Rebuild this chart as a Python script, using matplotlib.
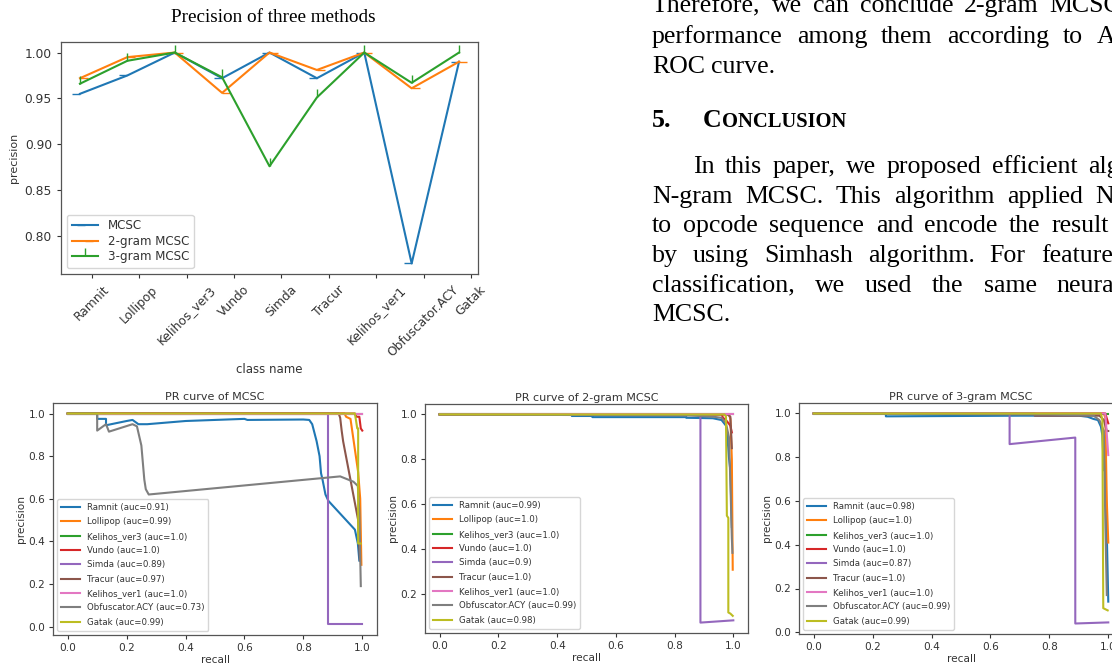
import matplotlib
matplotlib.use("Agg")
import matplotlib.pyplot as plt

W, H = 1112, 671

# ---------------- top chart data ----------------
classes = ["Ramnit", "Lollipop", "Kelihos_ver3", "Vundo", "Simda", "Tracur",
           "Kelihos_ver1", "Obfuscator.ACY", "Gatak"]
prec_mcsc = [0.955, 0.975, 1.0, 0.972, 1.0, 0.972, 1.0, 0.770, 0.990]
prec_2gram = [0.972, 0.995, 1.0, 0.956, 1.0, 0.981, 1.0, 0.961, 0.990]
prec_3gram = [0.966, 0.991, 1.0, 0.973, 0.876, 0.951, 1.0, 0.967, 1.0]
method_names = ["MCSC", "2-gram MCSC", "3-gram MCSC"]

# ---------------- PR curves data ----------------
auc_mcsc = [0.91, 0.99, 1.0, 1.0, 0.89, 0.97, 1.0, 0.73, 0.99]
auc_2gram = [0.99, 1.0, 1.0, 1.0, 0.9, 1.0, 1.0, 0.99, 0.98]
auc_3gram = [0.98, 1.0, 1.0, 1.0, 0.87, 1.0, 1.0, 0.99, 0.99]

mcsc_recall = {
    "Ramnit": [0, 0.10, 0.10, 0.13, 0.13, 0.20, 0.22, 0.24, 0.27, 0.40, 0.60, 0.61, 0.80, 0.82,
               0.83, 0.845, 0.855, 0.86, 0.865, 0.875, 0.885, 0.975, 0.985, 0.99],
    "Lollipop": [0, 0.94, 0.945, 0.96, 0.986, 0.993, 0.997],
    "Kelihos_ver3": [0, 1.0],
    "Vundo": [0, 0.975, 0.98, 0.99, 0.995, 1.0],
    "Simda": [0, 0.885, 0.885, 1.0],
    "Tracur": [0, 0.92, 0.925, 0.93, 0.935, 0.986, 0.992],
    "Kelihos_ver1": [0, 1.0],
    "Obfuscator.ACY": [0, 0.10, 0.10, 0.13, 0.14, 0.22, 0.235, 0.24, 0.25, 0.255, 0.26, 0.265,
                       0.275, 0.925, 0.97, 0.985, 0.99, 0.995],
    "Gatak": [0, 0.975, 0.983, 0.986, 0.986, 0.995],
}
mcsc_precision = {
    "Ramnit": [1.0, 1.0, 0.975, 0.975, 0.945, 0.965, 0.97, 0.95, 0.95, 0.965, 0.975, 0.97, 0.972, 0.97,
               0.95, 0.87, 0.80, 0.72, 0.69, 0.62, 0.59, 0.455, 0.39, 0.31],
    "Lollipop": [1.0, 1.0, 0.985, 0.975, 0.725, 0.6, 0.29],
    "Kelihos_ver3": [1.0, 1.0],
    "Vundo": [1.0, 1.0, 0.985, 0.985, 0.93, 0.92],
    "Simda": [1.0, 1.0, 0.01, 0.01],
    "Tracur": [1.0, 1.0, 0.98, 0.92, 0.87, 0.50, 0.31],
    "Kelihos_ver1": [1.0, 1.0],
    "Obfuscator.ACY": [1.0, 1.0, 0.92, 0.95, 0.915, 0.95, 0.94, 0.91, 0.85, 0.77, 0.69, 0.645,
                       0.62, 0.705, 0.68, 0.66, 0.54, 0.19],
    "Gatak": [1.0, 1.0, 0.93, 0.93, 0.39, 0.39],
}

gram2_recall = {
    "Ramnit": [0, 0.45, 0.45, 0.52, 0.52, 0.84, 0.84, 0.93, 0.96, 0.975, 0.98, 0.985, 0.99, 0.995],
    "Lollipop": [0, 0.985, 0.99, 0.995, 0.998],
    "Kelihos_ver3": [0, 1.0],
    "Vundo": [0, 0.96, 0.965, 0.975, 0.99, 0.995],
    "Simda": [0, 0.888, 0.888, 1.0],
    "Tracur": [0, 0.98, 0.99, 0.995],
    "Kelihos_ver1": [0, 1.0],
    "Obfuscator.ACY": [0, 0.85, 0.93, 0.96, 0.975, 0.985, 0.99, 0.995, 0.997],
    "Gatak": [0, 0.97, 0.975, 0.978, 0.983, 0.983, 0.99, 0.998],
}
gram2_precision = {
    "Ramnit": [1.0, 1.0, 0.993, 0.993, 0.988, 0.988, 0.985, 0.983, 0.975, 0.95, 0.90, 0.81, 0.75, 0.5],
    "Lollipop": [1.0, 1.0, 0.98, 0.8, 0.31],
    "Kelihos_ver3": [1.0, 1.0],
    "Vundo": [1.0, 1.0, 0.985, 0.975, 0.95, 0.92],
    "Simda": [1.0, 1.0, 0.075, 0.085],
    "Tracur": [1.0, 1.0, 0.99, 0.85],
    "Kelihos_ver1": [1.0, 1.0],
    "Obfuscator.ACY": [1.0, 0.995, 0.99, 0.985, 0.96, 0.9, 0.7, 0.45, 0.385],
    "Gatak": [1.0, 1.0, 0.99, 0.55, 0.54, 0.12, 0.115, 0.105],
}

gram3_recall = {
    "Ramnit": [0, 0.245, 0.245, 0.70, 0.90, 0.93, 0.95, 0.965, 0.975, 0.98, 0.985, 0.99, 0.995, 1.0],
    "Lollipop": [0, 0.985, 0.99, 0.995, 1.0],
    "Kelihos_ver3": [0, 1.0],
    "Vundo": [0, 0.99, 1.0],
    "Simda": [0, 0.665, 0.665, 0.888, 0.888, 1.0],
    "Tracur": [0, 0.75, 0.75, 0.97, 0.985, 0.995, 1.0],
    "Kelihos_ver1": [0, 0.99, 1.0],
    "Obfuscator.ACY": [0, 0.8, 0.95, 0.97, 0.985, 0.99, 0.995],
    "Gatak": [0, 0.975, 0.98, 0.983, 0.998],
}
gram3_precision = {
    "Ramnit": [1.0, 1.0, 0.987, 0.99, 0.99, 0.985, 0.975, 0.97, 0.94, 0.9, 0.74, 0.8, 0.45, 0.14],
    "Lollipop": [1.0, 1.0, 0.98, 0.6, 0.41],
    "Kelihos_ver3": [1.0, 1.0],
    "Vundo": [1.0, 1.0, 0.955],
    "Simda": [1.0, 1.0, 0.86, 0.89, 0.04, 0.045],
    "Tracur": [1.0, 1.0, 0.99, 0.99, 0.97, 0.92, 0.92],
    "Kelihos_ver1": [1.0, 1.0, 0.81],
    "Obfuscator.ACY": [1.0, 0.995, 0.99, 0.97, 0.92, 0.5, 0.17],
    "Gatak": [1.0, 1.0, 0.97, 0.11, 0.1],
}

pr_titles = ["PR curve of MCSC", "PR curve of 2-gram MCSC", "PR curve of 3-gram MCSC"]

# ---------------- page text ----------------
text_lines = [
    "Therefore, we can conclude 2-gram MCSC shows",
    "performance among them according to AUC",
    "ROC curve.",
    "In this paper, we proposed efficient algorithm",
    "N-gram MCSC. This algorithm applied N-gram",
    "to opcode sequence and encode the result of",
    "by using Simhash algorithm. For feature",
    "classification, we used the same neural",
    "MCSC.",
]

# =================================================================
fig = plt.figure(figsize=(W / 100, H / 100), dpi=100)
fig.patch.set_facecolor("white")


def rect(l, t, r, b):
    return [l / W, 1 - b / H, (r - l) / W, (b - t) / H]


SPINE = "#555555"
TXT = "#333333"


def style_axes(ax, fs, pad=2.5):
    for s in ax.spines.values():
        s.set_color(SPINE)
        s.set_linewidth(0.9)
    ax.tick_params(labelsize=fs, colors=TXT, length=3, width=0.8, pad=pad)


# ---------------- top chart ----------------
ax = fig.add_axes(rect(61, 42, 478, 274))
xs = list(range(len(classes)))
ax.plot(xs, prec_mcsc, color="#1f77b4", lw=1.5, marker=0, ms=6, label=method_names[0])
ax.plot(xs, prec_2gram, color="#ff7f0e", lw=1.5, marker=1, ms=6, label=method_names[1])
ax.plot(xs, prec_3gram, color="#2ca02c", lw=1.5, marker=2, ms=6, label=method_names[2])
ax.set_xticks([x + 0.25 for x in xs])
ax.set_xticklabels(classes, rotation=45)
ax.set_yticks([0.80, 0.85, 0.90, 0.95, 1.00])
ax.set_yticklabels(["0.80", "0.85", "0.90", "0.95", "1.00"])
style_axes(ax, 8.8, pad=3.5)
ax.set_ylabel("precision", fontsize=8, color=TXT, labelpad=4)
ax.set_xlabel("class name", fontsize=8.5, color=TXT, labelpad=3)
leg = ax.legend(loc="lower left", fontsize=8.6, frameon=True, borderaxespad=0.5,
                handlelength=2.2, borderpad=0.4, labelspacing=0.2)
for t in leg.get_texts():
    t.set_color(TXT)
fig.text(273 / W, 1 - 18 / H, "Precision of three methods", family="Liberation Serif",
         fontsize=13.8, ha="center", va="center", color="black")

# ---------------- PR charts ----------------
tab = ["#1f77b4", "#ff7f0e", "#2ca02c", "#d62728", "#9467bd", "#8c564b",
       "#e377c2", "#7f7f7f", "#bcbd22"]
pr_boxes = [(53, 403, 377, 635), (425, 404, 748, 633), (799, 403, 1123, 634)]
pr_sets = [(mcsc_recall, mcsc_precision, auc_mcsc),
           (gram2_recall, gram2_precision, auc_2gram),
           (gram3_recall, gram3_precision, auc_3gram)]

for box, (rec, pre, aucs), title in zip(pr_boxes, pr_sets, pr_titles):
    a = fig.add_axes(rect(*box))
    for i, c in enumerate(classes):
        a.plot(rec[c], pre[c], color=tab[i], lw=1.5,
               label=f"{c} (auc={aucs[i]})")
    style_axes(a, 7.6)
    a.set_title(title, fontsize=8, color=TXT, pad=2.5)
    a.set_xlabel("recall", fontsize=7.6, color=TXT, labelpad=1.5)
    a.set_ylabel("precision", fontsize=7.6, color=TXT, labelpad=2)
    lg = a.legend(loc="lower left", fontsize=6.2, borderaxespad=0.5,
                  handlelength=2.2, labelspacing=0.62, borderpad=0.45)
    for t in lg.get_texts():
        t.set_color(TXT)

# ---------------- page text ----------------
renderer = fig.canvas.get_renderer()
SERIF = "Liberation Serif"
BODY = 18.6


def place_line(s, x0, base, gap, size=BODY, weight="normal"):
    x = x0
    for w in s.split(" "):
        if x >= W - 2:
            break
        t = fig.text(x / W, 1 - base / H, w, family=SERIF, fontsize=size,
                     fontweight=weight, ha="left", va="baseline", color="black")
        x += t.get_window_extent(renderer).width + gap


X0 = 652
layout = [  # (baseline y, x start, word gap)
    (12, X0, 11), (43, X0, 14), (73, X0, 6.5),
    (173, X0 + 41, 10.5), (203, X0, 12.5), (232, X0, 11.3),
    (262, X0, 15), (292, X0, 20), (321, X0, 6.5),
]
for s, (b, x0, g) in zip(text_lines, layout):
    place_line(s, x0, b, g)

# heading "5. CONCLUSION" in small caps
fig.text(X0 / W, 1 - 127 / H, "5.", family=SERIF, fontsize=BODY, fontweight="bold",
         ha="left", va="baseline")
tc = fig.text(703 / W, 1 - 127 / H, "C", family=SERIF, fontsize=BODY, fontweight="bold",
              ha="left", va="baseline")
cw = tc.get_window_extent(renderer).width
fig.text((703 + cw) / W, 1 - 127 / H, "ONCLUSION", family=SERIF, fontsize=BODY * 0.8,
         fontweight="bold", ha="left", va="baseline")

fig.savefig("out.png", dpi=100)
